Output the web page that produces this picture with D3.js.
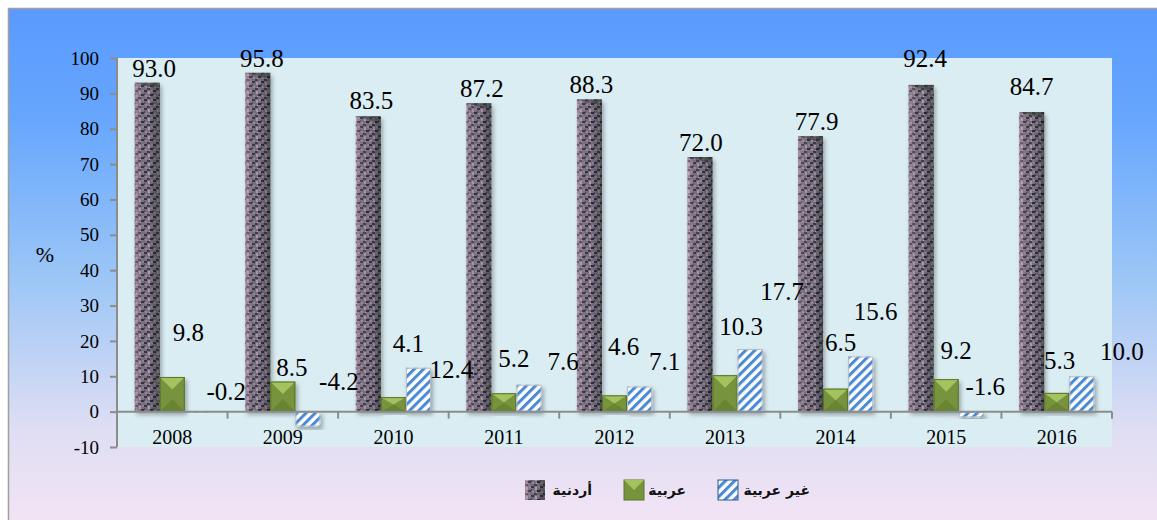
<!DOCTYPE html>
<html>
<head>
<meta charset="utf-8">
<script src="https://cdn.jsdelivr.net/npm/d3@7"></script>
<style>
  html, body { margin: 0; padding: 0; background: #fff; }
  svg { display: block; }
  .serif { font-family: "Liberation Serif", "Times New Roman", serif; }
</style>
</head>
<body>
<svg id="chart" width="1157" height="520"></svg>
<script>
// values
const years = ["2008", "2009", "2010", "2011", "2012", "2013", "2014", "2015", "2016"];
const jordanian = [93.0, 95.8, 83.5, 87.2, 88.3, 72.0, 77.9, 92.4, 84.7];
const arab = [9.8, 8.5, 4.1, 5.2, 4.6, 10.3, 6.5, 9.2, 5.3];
const nonArab = [-0.2, -4.2, 12.4, 7.6, 7.1, 17.7, 15.6, -1.6, 10.0];
const yTicks = [-10, 0, 10, 20, 30, 40, 50, 60, 70, 80, 90, 100];
const seriesNames = ["أردنية", "عربية", "غير عربية"];

// label nudges [dx, dy] relative to the bar top, the labels sit where they were dragged in the original
const nudgeJo = [[7,-15],[4,-15],[3,-16],[3,-15],[2,-15],[1,-15],[6,-15],[4,-27],[0,-26]];
const nudgeAr = [[16,-45],[9,-14],[15,-54],[10,-35],[9,-49],[16,-49],[5,-46],[10,-29],[3,-33]];
const nudgeNa = [[29,-20],[31,-30],[33,1],[34,-24],[25,-25],[32,-58],[15,-45],[14,-25],[40,-25]];

const svg = d3.select("#chart");
const W = 1157, H = 520;
const plot = {left: 118, right: 1112, top: 58, bottom: 447};
const fmt = v => v.toFixed(1);

const defs = svg.append("defs");

const bg = defs.append("linearGradient").attr("id", "bg").attr("x1", 0).attr("y1", 0).attr("x2", 0).attr("y2", 1);
bg.append("stop").attr("offset", "0%").attr("stop-color", "#5a9afe");
bg.append("stop").attr("offset", "20%").attr("stop-color", "#66a6fd");
bg.append("stop").attr("offset", "50%").attr("stop-color", "#9cc6f6");
bg.append("stop").attr("offset", "78%").attr("stop-color", "#dfdef3");
bg.append("stop").attr("offset", "100%").attr("stop-color", "#f8e5f5");

// granite-like texture for the first series
const gran = defs.append("pattern").attr("id", "granite")
    .attr("patternUnits", "userSpaceOnUse").attr("width", 9).attr("height", 9);
gran.append("rect").attr("width", 9).attr("height", 9).attr("fill", "#7d7384");
[[0,0,3,2,"#2f3344"],[4,1,2,3,"#b79aa9"],[6,4,3,2,"#283040"],[1,5,2,2,"#a28a9b"],
 [3,7,3,2,"#3c4150"],[7,0,2,2,"#98889a"],[0,3,1,2,"#4a4a5a"],[5,6,1,1,"#c8aab5"]]
  .forEach(([x, y, w, h, c]) => gran.append("rect").attr("x", x).attr("y", y).attr("width", w).attr("height", h).attr("fill", c));

const shade = defs.append("linearGradient").attr("id", "shade");
shade.append("stop").attr("offset", "0%").attr("stop-color", "#f0c8dc").attr("stop-opacity", 0.35);
shade.append("stop").attr("offset", "55%").attr("stop-color", "#000").attr("stop-opacity", 0);
shade.append("stop").attr("offset", "100%").attr("stop-color", "#0a1a10").attr("stop-opacity", 0.45);

const stripes = defs.append("pattern").attr("id", "stripes")
    .attr("patternUnits", "userSpaceOnUse").attr("width", 6.5).attr("height", 6.5)
    .attr("patternTransform", "rotate(45)");
stripes.append("rect").attr("width", 6.5).attr("height", 6.5).attr("fill", "#fdfdfd");
stripes.append("rect").attr("width", 3).attr("height", 6.5).attr("fill", "#4a8ad2");

const shadow = defs.append("filter").attr("id", "shadow").attr("x", "-30%").attr("y", "-10%").attr("width", "160%").attr("height", "130%");
shadow.append("feDropShadow").attr("dx", 2).attr("dy", 3).attr("stdDeviation", 2)
    .attr("flood-color", "#000").attr("flood-opacity", 0.3);

// frame
svg.append("rect").attr("x", 8.5).attr("y", 8.5).attr("width", W + 20).attr("height", H + 20)
    .attr("fill", "url(#bg)").attr("stroke", "#a0a0a0").attr("stroke-width", 1.5);

svg.append("rect").attr("x", plot.left).attr("y", plot.top)
    .attr("width", plot.right - plot.left).attr("height", plot.bottom - plot.top)
    .attr("fill", "#daedf3");

const x = d3.scaleBand().domain(years).range([117, plot.right]).padding(0);
const y = d3.scaleLinear().domain([-10, 100]).range([plot.bottom, plot.top]);
const sub = d3.scaleBand().domain([0, 1, 2]).range([0, x.bandwidth() * 0.68]).padding(0);
const off = (x.bandwidth() - sub.range()[1]) / 2;
const bw = sub.bandwidth();

const series = [jordanian, arab, nonArab];
const barsG = svg.append("g");

function barRect(i, s, v) {
  const x0 = x(years[i]) + off + sub(s);
  const yTop = y(Math.max(0, v)), yBot = y(Math.min(0, v));
  return {x0, yTop, yBot, h: yBot - yTop};
}

series.forEach((vals, s) => {
  vals.forEach((v, i) => {
    const r = barRect(i, s, v);
    const g = barsG.append("g").attr("filter", "url(#shadow)");
    if (s === 0) {
      g.append("rect").attr("x", r.x0).attr("y", r.yTop).attr("width", bw).attr("height", r.h).attr("fill", "url(#granite)");
      g.append("rect").attr("x", r.x0).attr("y", r.yTop).attr("width", bw).attr("height", r.h).attr("fill", "url(#shade)");
      g.append("path").attr("d", `M${r.x0},${r.yTop}L${r.x0 + bw},${r.yTop}L${r.x0 + bw - 6},${r.yTop + 5}Z`).attr("fill", "#3a3f35").attr("opacity", 0.6);
    } else if (s === 1) {
      const d = Math.min(bw / 2, r.h / 2);
      g.append("rect").attr("x", r.x0).attr("y", r.yTop).attr("width", bw).attr("height", r.h).attr("fill", "#77933c");
      g.append("path").attr("d", `M${r.x0},${r.yTop}L${r.x0 + bw},${r.yTop}L${r.x0 + bw / 2},${r.yTop + d}Z`).attr("fill", "#a4c35e");
      g.append("path").attr("d", `M${r.x0},${r.yBot}L${r.x0 + bw},${r.yBot}L${r.x0 + bw / 2},${r.yBot - d}Z`).attr("fill", "#6a8533");
      g.append("rect").attr("x", r.x0 + 0.5).attr("y", r.yTop + 0.5).attr("width", bw - 1).attr("height", Math.max(0, r.h - 1))
          .attr("fill", "none").attr("stroke", "#5c7428").attr("stroke-width", 1);
    } else {
      g.append("rect").attr("x", r.x0).attr("y", r.yTop).attr("width", bw).attr("height", r.h).attr("fill", "url(#stripes)");
      g.append("rect").attr("x", r.x0 + 0.5).attr("y", r.yTop + 0.5).attr("width", bw - 1).attr("height", Math.max(0, r.h - 1))
          .attr("fill", "none").attr("stroke", "#b8bcc4").attr("stroke-width", 1);
    }
  });
});

// axes
const axisCol = "#8c8c8c";
const yAxis = svg.append("g").attr("transform", "translate(117,0)")
    .call(d3.axisLeft(y).tickValues(yTicks).tickSize(7).tickPadding(11).tickFormat(d => String(d)));
yAxis.attr("font-family", null).attr("font-size", null);
yAxis.select(".domain").attr("stroke", axisCol).attr("stroke-width", 2).attr("d", `M0,${plot.top}V${plot.bottom}`);
yAxis.selectAll(".tick line").attr("stroke", axisCol).attr("stroke-width", 2);
yAxis.selectAll(".tick text").attr("class", "serif").style("font-size", "19px").attr("fill", "#000");

const xg = svg.append("g").attr("transform", `translate(0,${y(0)})`);
xg.append("line").attr("x1", 117).attr("x2", plot.right).attr("stroke", axisCol).attr("stroke-width", 2);
xg.selectAll("line.tk").data(years.concat(["end"])).join("line").attr("class", "tk")
    .attr("x1", (d, i) => i < years.length ? x(d) : plot.right)
    .attr("x2", (d, i) => i < years.length ? x(d) : plot.right)
    .attr("y1", 0).attr("y2", 7).attr("stroke", axisCol).attr("stroke-width", 2)
    .filter((d, i) => i === 0).remove();
xg.selectAll("text").data(years).join("text")
    .attr("class", "serif")
    .attr("x", d => x(d) + x.bandwidth() / 2).attr("y", 32)
    .attr("text-anchor", "middle").style("font-size", "20px").text(d => d);

svg.append("text").attr("class", "serif").attr("x", 45).attr("y", 262).attr("text-anchor", "middle")
    .style("font-size", "22px").text("%");

// data labels
const nudges = [nudgeJo, nudgeAr, nudgeNa];
const labelsG = svg.append("g").attr("class", "serif").style("font-size", "25px")
    .attr("text-anchor", "middle").attr("fill", "#000");
series.forEach((vals, s) => {
  vals.forEach((v, i) => {
    const r = barRect(i, s, v);
    labelsG.append("text")
        .attr("x", r.x0 + bw / 2 + nudges[s][i][0])
        .attr("y", r.yTop + nudges[s][i][1])
        .attr("dy", "0.35em")
        .text(fmt(v));
  });
});

// legend
const legend = svg.append("g");
const legItems = [
  {sx: 525, tx: 592},
  {sx: 624, tx: 686},
  {sx: 718, tx: 810}
];
legItems.forEach((it, s) => {
  const g = legend.append("g");
  if (s === 0) {
    g.append("rect").attr("x", it.sx).attr("y", 480).attr("width", 20).attr("height", 20).attr("fill", "url(#granite)");
    g.append("rect").attr("x", it.sx).attr("y", 480).attr("width", 20).attr("height", 20).attr("fill", "url(#shade)");
  } else if (s === 1) {
    g.append("rect").attr("x", it.sx).attr("y", 480).attr("width", 20).attr("height", 20).attr("fill", "#77933c").attr("stroke", "#5c7428");
    g.append("path").attr("d", `M${it.sx},480L${it.sx + 20},480L${it.sx + 10},490Z`).attr("fill", "#a4c35e");
  } else {
    g.append("rect").attr("x", it.sx).attr("y", 480).attr("width", 20).attr("height", 20).attr("fill", "url(#stripes)").attr("stroke", "#2e5b8e");
  }
  g.append("text").attr("x", it.tx).attr("y", 495).attr("text-anchor", "end")
      .attr("font-family", "DejaVu Sans, sans-serif").attr("font-weight", "bold")
      .style("font-size", "14px").attr("fill", "#111").text(seriesNames[s]);
});
</script>
</body>
</html>
